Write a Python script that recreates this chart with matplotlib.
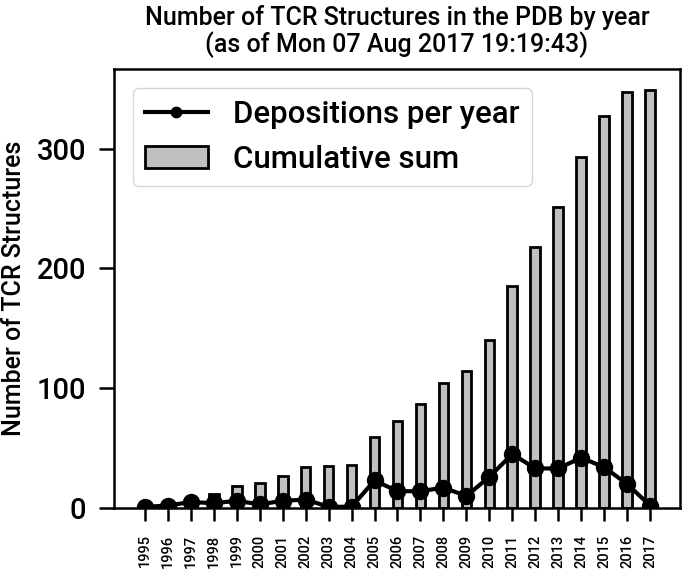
import numpy as np
from matplotlib import pyplot as plt

plt.rcParams['font.family'] = ['Roboto', 'DejaVu Sans']
plt.rcParams['font.weight'] = 'medium'
plt.rcParams['axes.titleweight'] = 'medium'
plt.rcParams['axes.labelweight'] = 'medium'

anos = list(range(1995, 2018))
deposicoes = [1, 2, 5, 4, 6, 3, 6, 7, 1, 1, 23, 14, 14, 17, 10, 26, 45, 33, 33, 42, 34, 20, 2]
acumulado = [1, 3, 8, 12, 18, 21, 27, 34, 35, 36, 59, 73, 87, 104, 114, 140, 185, 218, 251, 293, 327, 347, 349]

fig = plt.figure(figsize=(6.82, 5.74), dpi=100)
ax = fig.add_axes([0.167, 0.115, 0.83, 0.765])

ax.plot(anos, deposicoes, color="black", linewidth=3, marker="o", markersize=11.5,
        label="Depositions per year")
ax.bar(anos, acumulado, width=0.42, color="silver", edgecolor="black", linewidth=2,
       label="Cumulative sum")

ax.set_xlim(1993.65, 2018.3)
ax.set_ylim(0, 366.5)
ax.set_xticks(anos)
ax.set_xticklabels([str(a) for a in anos], rotation=90, fontsize=10.5)
ax.set_yticks([0, 100, 200, 300])
ax.tick_params(axis="y", labelsize=21, length=11, width=1.8, pad=9)
ax.tick_params(axis="x", length=9, width=1.8, pad=10)
for s in ax.spines.values():
    s.set_linewidth(1.8)

ax.set_ylabel("Number of TCR Structures", fontsize=18, labelpad=8)
ax.set_title("Number of TCR Structures in the PDB by year\n(as of Mon 07 Aug 2017 19:19:43)",
             fontsize=18, pad=12, linespacing=1.05)
ax.legend(loc="upper left", fontsize=22.5, markerscale=0.65, borderaxespad=0.6)

fig.savefig("out.png", dpi=100)
